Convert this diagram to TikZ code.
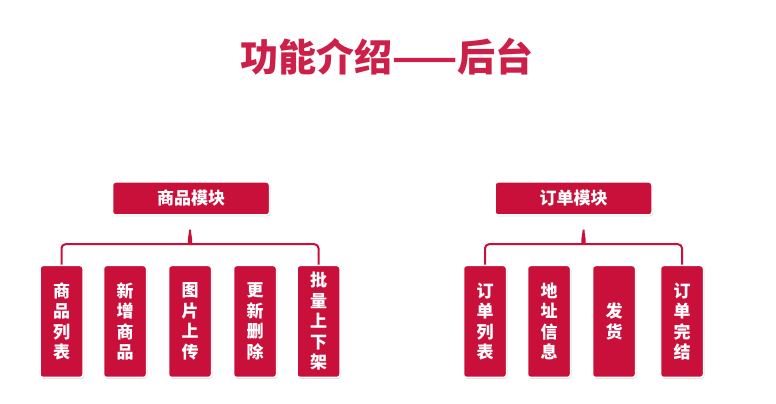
\documentclass[tikz,border=0pt]{standalone}
\usepackage{fontspec}
\newfontfamily\cjk{Noto Sans CJK SC}
\usetikzlibrary{calc, shadows}

\definecolor{crimson}{RGB}{200,16,58}
\definecolor{titlered}{RGB}{204,32,72}

\tikzset{
	box/.style = {rectangle, rounded corners = 3pt, fill = crimson, draw = white, line width = 1.5pt,
		text = white, inner sep = 0pt, align = center,
		drop shadow = {opacity = 0.25, shadow xshift = 1pt, shadow yshift = -1.5pt}},
	modbox/.style = {box, minimum width = 157pt, minimum height = 33pt, font = \cjk\bfseries\fontsize{17}{20}\selectfont},
	itembox/.style = {box, minimum width = 43pt, minimum height = 112pt, font = \cjk\bfseries\fontsize{17}{20.5}\selectfont},
	link/.style = {draw = crimson, line width = 2pt, rounded corners = 4pt},
}

\begin{document}
\begin{tikzpicture}[x = 1pt, y = 1pt]
			\def\Y{82.5};
			\def\T{205.5};

			\useasboundingbox (0,0) rectangle (776,404);

			\node (title) [font = \cjk\bfseries\fontsize{38}{40}\selectfont, text = titlered] at (387,347) {功能介绍——后台};

			% goods
			\begin{scope}
				\node (goods) [modbox] at (191,\T) {商品模块};
				\foreach \x/\t [count = \i] in {61.5/{商\\品\\列\\表}, 125/{新\\增\\商\\品}, 190/{图\\片\\上\\传}, 255/{更\\新\\删\\除}, 318.5/{批\\量\\上\\下\\架}}
					\node (goods\i) [itembox] at (\x,\Y) {\t};

				\coordinate (gtip) at ($ (goods1.north)!0.5!(goods5.north) + (0,37.5) $);
				\draw [link] (goods1.north) |- ($ (gtip) + (-4,-17) $) to [out = 0, in = -90] (gtip) to [out = -90, in = 180] ($ (gtip) + (4,-17) $) -| (goods5.north);
			\end{scope}

			% orders
			\begin{scope}
				\node (order) [modbox] at (573.5,\T) {订单模块};
				\foreach \x/\t [count = \i] in {485/{订\\单\\列\\表}, 549/{地\\址\\信\\息}, 614/{发\\货}, 682/{订\\单\\完\\结}}
					\node (order\i) [itembox] at (\x,\Y) {\t};

				\coordinate (otip) at ($ (order1.north)!0.5!(order4.north) + (0,37.5) $);
				\draw [link] (order1.north) |- ($ (otip) + (-4,-17) $) to [out = 0, in = -90] (otip) to [out = -90, in = 180] ($ (otip) + (4,-17) $) -| (order4.north);
			\end{scope}
		\end{tikzpicture}
\end{document}
